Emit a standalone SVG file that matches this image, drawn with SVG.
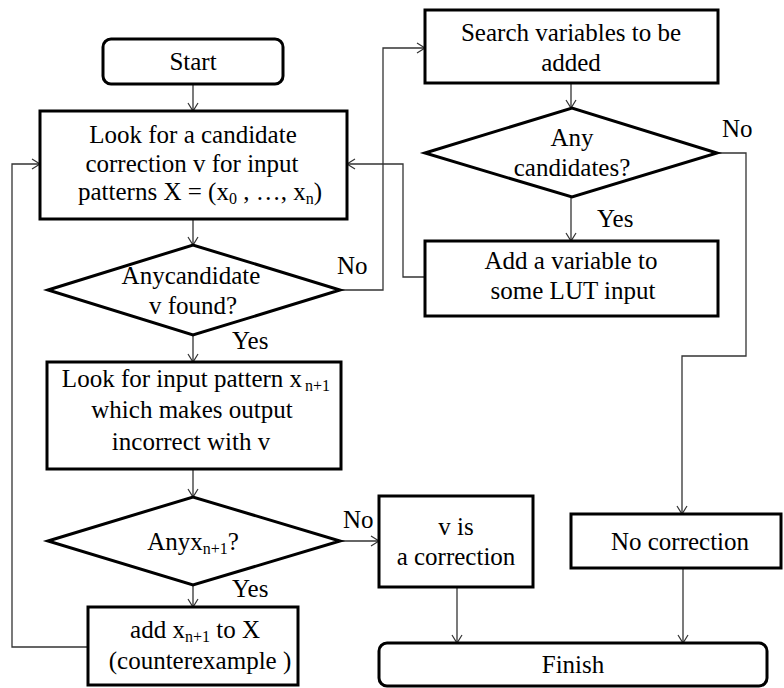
<svg xmlns="http://www.w3.org/2000/svg" width="784" height="688" viewBox="0 0 784 688" font-family="Liberation Serif, Times New Roman, serif">
<defs>
<marker id="arr" markerUnits="userSpaceOnUse" markerWidth="12" markerHeight="12" refX="9" refY="6" orient="auto">
<path d="M1,1 L9,6 L1,11" fill="none" stroke="#333" stroke-width="1.2"/>
</marker>
</defs>
<style>
.box{fill:#fff;stroke:#000;stroke-width:3}
.t{font-size:25px;fill:#000;text-anchor:middle}
.lbl{font-size:25px;fill:#000}
.sub{font-size:16px}
.c{fill:none;stroke:#333;stroke-width:1.3;marker-end:url(#arr)}
</style>
<rect width="784" height="688" fill="#fff"/>
<g id="connectors">
<path class="c" d="M193,84 V111"/>
<path class="c" d="M193,219 V245"/>
<path class="c" d="M340,290 H383 V48 H425"/>
<path class="c" d="M193,335 V362"/>
<path class="c" d="M571,83 V108"/>
<path class="c" d="M571,197 V241"/>
<path class="c" d="M717,153 H746 V356 H682 V514"/>
<path class="c" d="M425,277 H403 V164 H347"/>
<path class="c" d="M193,469 V497"/>
<path class="c" d="M340,541 H379"/>
<path class="c" d="M193,585 V607"/>
<path class="c" d="M88,647 H12 V164 H40"/>
<path class="c" d="M457,587 V643"/>
<path class="c" d="M683,568 V643"/>
</g>
<g id="labels">
<text class="lbl" x="337" y="274">No</text>
<text class="lbl" x="232" y="349">Yes</text>
<text class="lbl" x="722" y="137">No</text>
<text class="lbl" x="597" y="227">Yes</text>
<text class="lbl" x="343" y="528">No</text>
<text class="lbl" x="232" y="597">Yes</text>
</g>
<g id="start">
<rect class="box" x="103" y="39" width="180" height="45" rx="8"/>
<text class="t" x="193" y="70">Start</text>
</g>
<g id="lookCandidate">
<rect class="box" x="40" y="111" width="307" height="108"/>
<text class="t" x="193" y="143">Look for a candidate</text>
<text class="t" x="192" y="172">correction v for input</text>
<text class="t" x="200" y="200">patterns X = (x<tspan class="sub" dy="4">0</tspan><tspan dy="-4"> , …, x</tspan><tspan class="sub" dy="4">n</tspan><tspan dy="-4">)</tspan></text>
</g>
<g id="anyCandidate">
<polygon class="box" points="48,290 193,245 340,290 193,335"/>
<text class="t" x="191" y="284">Anycandidate</text>
<text class="t" x="193" y="314">v found?</text>
</g>
<g id="search">
<rect class="box" x="425" y="10" width="293" height="73"/>
<text class="t" x="571" y="41">Search variables to be</text>
<text class="t" x="571" y="71">added</text>
</g>
<g id="anyCandidates">
<polygon class="box" points="425,153 572,108 717,153 572,197"/>
<text class="t" x="572" y="146">Any</text>
<text class="t" x="572" y="176">candidates?</text>
</g>
<g id="addVariable">
<rect class="box" x="425" y="241" width="293" height="75"/>
<text class="t" x="571" y="269">Add a variable to</text>
<text class="t" x="573" y="299">some LUT input</text>
</g>
<g id="lookInput">
<rect class="box" x="47" y="362" width="294" height="107"/>
<text class="t" x="196" y="387">Look for input pattern x<tspan class="sub" dx="3" dy="4">n+1</tspan></text>
<text class="t" x="192" y="418">which makes output</text>
<text class="t" x="191" y="450">incorrect with v</text>
</g>
<g id="anyX">
<polygon class="box" points="48,541 193,497 340,541 193,585"/>
<text class="t" x="193" y="550">Anyx<tspan class="sub" dy="4">n+1</tspan><tspan dy="-4">?</tspan></text>
</g>
<g id="addX">
<rect class="box" x="88" y="607" width="210" height="78"/>
<text class="t" x="195" y="638">add x<tspan class="sub" dy="4">n+1</tspan><tspan dy="-4"> to X</tspan></text>
<text class="t" x="200" y="669">(counterexample )</text>
</g>
<g id="vIsCorrection">
<rect class="box" x="379" y="496" width="154" height="91"/>
<text class="t" x="456" y="535">v is</text>
<text class="t" x="456" y="565">a correction</text>
</g>
<g id="noCorrection">
<rect class="box" x="571" y="514" width="210" height="54"/>
<text class="t" x="680" y="550">No correction</text>
</g>
<g id="finish">
<rect class="box" x="379" y="643" width="388" height="43" rx="8"/>
<text class="t" x="573" y="673">Finish</text>
</g>
</svg>
